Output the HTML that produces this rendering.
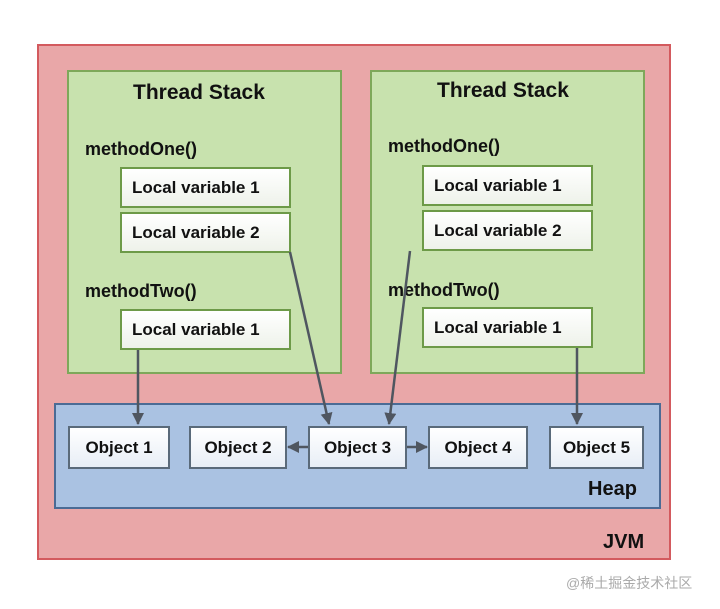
<!DOCTYPE html>
<html><head><style>
body{margin:0;width:720px;height:609px;background:#fff;position:relative;overflow:hidden;font-family:"Liberation Sans",Arial,sans-serif}
.a{position:absolute;box-sizing:border-box}
.jvm{left:37px;top:44px;width:634px;height:516px;background:#e9a7a8;border:2px solid #d35a5e}
.st{top:70px;width:275px;height:304px;background:#c8e2ae;border:2px solid #7ea85a}
.t{font-weight:bold;font-size:21px;color:#111;position:absolute}
.m{font-weight:bold;font-size:18px;color:#111;position:absolute}
.lv{position:absolute;box-sizing:border-box;width:171px;height:41px;background:linear-gradient(#fff,#eef2ea);border:2px solid #6d9a48;font-size:17px;font-weight:bold;color:#111;padding-left:10px;line-height:37px}
.heap{left:54px;top:403px;width:607px;height:106px;background:#aac2e2;border:2px solid #4b6b95}
.ob{position:absolute;box-sizing:border-box;top:426px;height:43px;background:linear-gradient(#fff,#e8eef6);border:2px solid #5a6a7a;font-size:17px;font-weight:bold;color:#111;text-align:center;line-height:39px}
</style></head><body>
<div class="a jvm"></div>
<div class="a st" style="left:67px"></div>
<div class="a st" style="left:370px"></div>
<div class="t" style="left:133px;top:81px">Thread Stack</div>
<div class="t" style="left:437px;top:79px">Thread Stack</div>
<div class="m" style="left:85px;top:139px">methodOne()</div>
<div class="m" style="left:85px;top:281px">methodTwo()</div>
<div class="m" style="left:388px;top:136px">methodOne()</div>
<div class="m" style="left:388px;top:280px">methodTwo()</div>
<div class="lv" style="left:120px;top:167px">Local variable 1</div>
<div class="lv" style="left:120px;top:212px">Local variable 2</div>
<div class="lv" style="left:120px;top:309px">Local variable 1</div>
<div class="lv" style="left:422px;top:165px">Local variable 1</div>
<div class="lv" style="left:422px;top:210px">Local variable 2</div>
<div class="lv" style="left:422px;top:307px">Local variable 1</div>
<div class="a heap"></div>
<div class="ob" style="left:68px;width:102px">Object 1</div>
<div class="ob" style="left:189px;width:98px">Object 2</div>
<div class="ob" style="left:308px;width:99px">Object 3</div>
<div class="ob" style="left:428px;width:100px">Object 4</div>
<div class="ob" style="left:549px;width:95px">Object 5</div>
<div class="t" style="left:588px;top:478px;font-size:20px">Heap</div>
<div class="t" style="left:603px;top:531px;font-size:20px">JVM</div>
<div style="position:absolute;left:566px;top:573px;font-size:14px;color:#aaa;font-family:'Liberation Sans','Noto Sans CJK SC',sans-serif">@稀土掘金技术社区</div>
<svg class="a" style="left:0;top:0" width="720" height="609">
<defs><marker id="h" markerWidth="12" markerHeight="12" refX="11" refY="6" orient="auto" markerUnits="userSpaceOnUse"><path d="M0,0L12,6L0,12z" fill="#4f5660"/></marker></defs>
<g stroke="#4f5660" stroke-width="2.5" fill="none" marker-end="url(#h)">
<line x1="138" y1="350" x2="138" y2="424"/>
<line x1="290" y1="252" x2="329" y2="424"/>
<line x1="410" y1="251" x2="389" y2="424"/>
<line x1="577" y1="348" x2="577" y2="424"/>
<line x1="308" y1="447" x2="288" y2="447"/>
<line x1="407" y1="447" x2="427" y2="447"/>
</g></svg>
</body></html>
